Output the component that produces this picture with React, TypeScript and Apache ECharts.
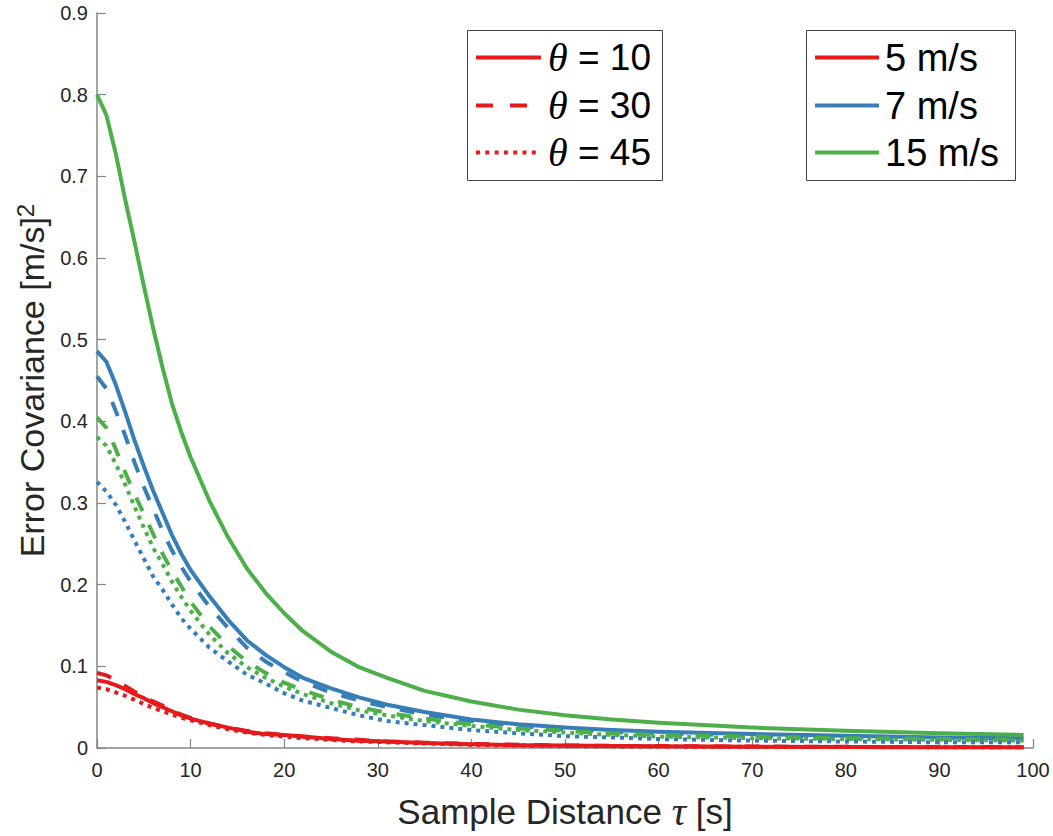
import React, { useEffect, useRef } from "react";
import * as echarts from "echarts";

// ---- data ----
const tau = [0, 1, 2, 3, 4, 5, 6, 7, 8, 9, 10, 12, 14, 16, 18, 20, 22, 25, 28, 31, 35, 40, 45, 50, 55, 60, 70, 80, 90, 99];

const red10 = [0.083, 0.081, 0.077, 0.072, 0.066, 0.061, 0.055, 0.05, 0.045, 0.04, 0.036, 0.03, 0.025, 0.02, 0.017, 0.016, 0.014, 0.011, 0.009, 0.008, 0.006, 0.0045, 0.0035, 0.003, 0.0025, 0.002, 0.0015, 0.0012, 0.001, 0.001];
const red30 = [0.092, 0.089, 0.083, 0.076, 0.069, 0.063, 0.057, 0.052, 0.046, 0.041, 0.037, 0.03, 0.025, 0.021, 0.018, 0.016, 0.014, 0.012, 0.01, 0.008, 0.0065, 0.005, 0.004, 0.003, 0.0027, 0.0023, 0.0018, 0.0014, 0.0012, 0.001];
const red45 = [0.074, 0.072, 0.068, 0.064, 0.059, 0.054, 0.049, 0.045, 0.041, 0.037, 0.034, 0.028, 0.023, 0.019, 0.016, 0.014, 0.012, 0.01, 0.008, 0.007, 0.0055, 0.004, 0.003, 0.0025, 0.002, 0.0018, 0.0014, 0.0011, 0.001, 0.0009];

const blue10 = [0.486, 0.473, 0.445, 0.412, 0.377, 0.345, 0.315, 0.288, 0.261, 0.238, 0.218, 0.186, 0.157, 0.132, 0.114, 0.099, 0.086, 0.073, 0.062, 0.053, 0.044, 0.035, 0.029, 0.025, 0.022, 0.02, 0.017, 0.015, 0.013, 0.012];
const blue30 = [0.455, 0.44, 0.413, 0.383, 0.35, 0.32, 0.293, 0.266, 0.242, 0.222, 0.204, 0.173, 0.147, 0.123, 0.106, 0.093, 0.081, 0.068, 0.058, 0.05, 0.041, 0.033, 0.027, 0.023, 0.02, 0.018, 0.015, 0.013, 0.012, 0.011];
const blue45 = [0.326, 0.314, 0.298, 0.277, 0.254, 0.232, 0.21, 0.194, 0.176, 0.159, 0.146, 0.123, 0.106, 0.09, 0.079, 0.067, 0.058, 0.049, 0.04, 0.033, 0.028, 0.022, 0.018, 0.0145, 0.013, 0.011, 0.009, 0.008, 0.007, 0.007];

const green10 = [0.8, 0.775, 0.728, 0.672, 0.62, 0.566, 0.514, 0.466, 0.422, 0.387, 0.356, 0.303, 0.258, 0.22, 0.19, 0.165, 0.143, 0.118, 0.099, 0.086, 0.07, 0.057, 0.047, 0.04, 0.035, 0.031, 0.025, 0.021, 0.018, 0.016];
const green30 = [0.405, 0.392, 0.366, 0.338, 0.311, 0.287, 0.262, 0.238, 0.217, 0.198, 0.179, 0.149, 0.125, 0.106, 0.092, 0.08, 0.071, 0.059, 0.05, 0.043, 0.036, 0.029, 0.024, 0.021, 0.018, 0.016, 0.014, 0.012, 0.011, 0.01];
const green45 = [0.381, 0.37, 0.348, 0.323, 0.296, 0.27, 0.245, 0.225, 0.204, 0.185, 0.168, 0.139, 0.116, 0.099, 0.086, 0.075, 0.066, 0.055, 0.046, 0.04, 0.033, 0.027, 0.022, 0.019, 0.016, 0.014, 0.012, 0.011, 0.01, 0.009];

const speedLabels = ["5 m/s", "7 m/s", "15 m/s"];
const thetaValues = ["10", "30", "45"];
const xTicks = [0, 10, 20, 30, 40, 50, 60, 70, 80, 90, 100];
const yTicks = [0, 0.1, 0.2, 0.3, 0.4, 0.5, 0.6, 0.7, 0.8, 0.9];

const COLORS = ["#e41a1c", "#377eb8", "#4daf4a"];
const SANS = "'Liberation Sans', Arial, Helvetica, sans-serif";
const SERIF = "'Liberation Serif', 'DejaVu Serif', serif";
const DASHES: any[] = ["solid", [15, 15], [4, 5]];
const LEGEND_DASHES: any[] = ["solid", [17, 17], [4, 5.3]];

const seriesData = [
  [red10, red30, red45],
  [blue10, blue30, blue45],
  [green10, green30, green45],
];

export default function App() {
  const ref = useRef<HTMLDivElement>(null);
  useEffect(() => {
    document.body.style.margin = "0";
    const chart = echarts.init(ref.current!, null, { renderer: "svg" });
    const series: any[] = [];
    seriesData.forEach((group, ci) => {
      group.forEach((vals, ti) => {
        series.push({
          name: `${speedLabels[ci]}, θ = ${thetaValues[ti]}`,
          type: "line",
          data: tau.map((t, i) => [t, vals[i]]),
          showSymbol: false,
          smooth: false,
          lineStyle: { color: COLORS[ci], width: 4, type: DASHES[ti], cap: "butt", join: "round" },
          itemStyle: { color: COLORS[ci] },
          z: 2 + ti,
        });
      });
    });

    const rowY = [57.5, 105.5, 152.5];
    const graphic: any[] = [
      { type: "rect", shape: { x: 467.5, y: 30.5, width: 195, height: 150 }, style: { fill: "#fff", stroke: "#444", lineWidth: 1 }, z: 10 },
      { type: "rect", shape: { x: 806.5, y: 30.5, width: 209, height: 150 }, style: { fill: "#fff", stroke: "#444", lineWidth: 1 }, z: 10 },
    ];
    thetaValues.forEach((th, i) => {
      graphic.push({
        type: "line",
        shape: { x1: 476, y1: rowY[i], x2: 541, y2: rowY[i] },
        style: { stroke: COLORS[0], lineWidth: 4, lineDash: LEGEND_DASHES[i] === "solid" ? null : LEGEND_DASHES[i] },
        z: 11,
      });
      graphic.push({
        type: "text",
        x: 548,
        y: rowY[i],
        style: {
          text: `{th|θ} = ${th}`,
          rich: { th: { fontFamily: SERIF, fontStyle: "italic", fontSize: 40, fill: "#000" } },
          fontFamily: SANS,
          fontSize: 37,
          fill: "#000",
          verticalAlign: "middle",
        },
        z: 11,
      });
    });
    speedLabels.forEach((s, i) => {
      graphic.push({
        type: "line",
        shape: { x1: 815, y1: rowY[i], x2: 879, y2: rowY[i] },
        style: { stroke: COLORS[i], lineWidth: 4 },
        z: 11,
      });
      graphic.push({
        type: "text",
        x: 885,
        y: rowY[i],
        style: { text: s, fontFamily: SANS, fontSize: 38, fill: "#000", verticalAlign: "middle" },
        z: 11,
      });
    });

    const axisColor = "#868686";
    chart.setOption({
      animation: false,
      backgroundColor: "#fff",
      grid: { left: 97, right: 20, top: 13, bottom: 86, containLabel: false },
      xAxis: {
        type: "value",
        min: xTicks[0],
        max: xTicks[xTicks.length - 1],
        interval: 10,
        name: "Sample Distance {t|τ} [s]",
        nameLocation: "middle",
        nameGap: 43,
        nameTextStyle: {
          fontFamily: SANS,
          fontSize: 35,
          color: "#262626",
          rich: { t: { fontFamily: SERIF, fontStyle: "italic", fontSize: 40, color: "#262626" } },
        },
        axisLine: { show: true, lineStyle: { color: axisColor, width: 1.5 } },
        axisTick: { show: true, inside: true, length: 9, lineStyle: { color: axisColor, width: 1.2 } },
        axisLabel: { fontFamily: SANS, fontSize: 20, color: "#262626", margin: 12 },
        splitLine: { show: false },
      },
      yAxis: {
        type: "value",
        min: yTicks[0],
        max: yTicks[yTicks.length - 1],
        interval: 0.1,
        name: "Error Covariance [m/s]{s|2}",
        nameLocation: "middle",
        nameGap: 46,
        nameTextStyle: {
          fontFamily: SANS,
          fontSize: 34,
          color: "#262626",
          rich: { s: { fontFamily: SANS, fontSize: 24, color: "#262626", verticalAlign: "top", padding: [0, 0, 14, 0] } },
        },
        axisLine: { show: true, lineStyle: { color: axisColor, width: 1.5 } },
        axisTick: { show: true, inside: true, length: 9, lineStyle: { color: axisColor, width: 1.2 } },
        axisLabel: {
          fontFamily: SANS,
          fontSize: 20,
          color: "#262626",
          margin: 9,
          formatter: (v: number) => (v === 0 ? "0" : v.toFixed(1)),
        },
        splitLine: { show: false },
      },
      series,
      graphic,
    });
    return () => chart.dispose();
  }, []);
  return <div ref={ref} style={{ width: 1053, height: 836 }} />;
}
